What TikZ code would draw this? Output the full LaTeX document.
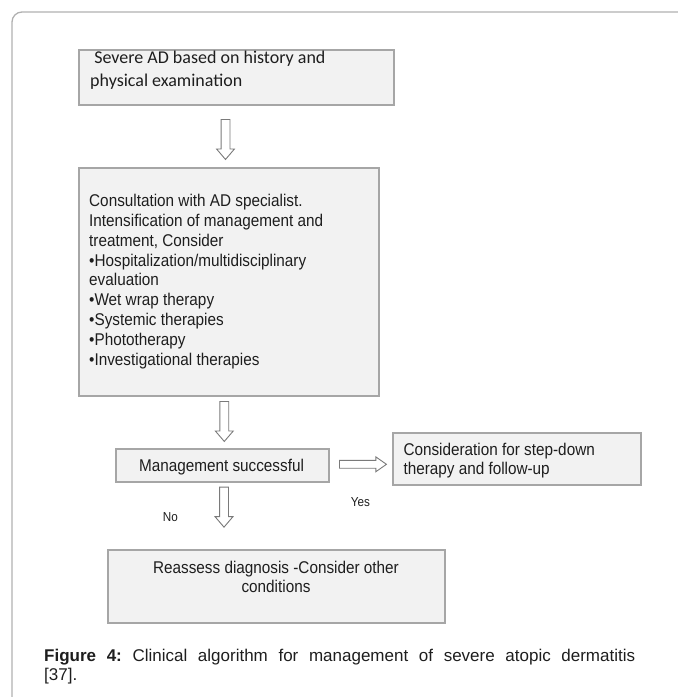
\documentclass[tikz,border=0pt]{standalone}
\usepackage{fontspec}
\setmainfont{Liberation Sans}
\newfontfamily\narrowfont[FakeStretch=0.9]{Liberation Sans}
\newfontfamily\calibfont{Carlito}
\usetikzlibrary{shapes.arrows}
\definecolor{boxfill}{HTML}{F2F2F2}
\definecolor{boxline}{HTML}{A6A6A6}
\definecolor{arrline}{HTML}{7A7A7A}
\definecolor{frameline}{HTML}{B0B0B0}
\definecolor{ink}{HTML}{1E1E1E}
\newcommand\leftlines[2]{\vtop{\baselineskip=#1\relax\halign{##\hfil\cr#2\crcr}}}
\newcommand\centerlines[2]{\vtop{\baselineskip=#1\relax\halign{\hfil##\hfil\cr#2\crcr}}}
\begin{document}
\begin{tikzpicture}[x=1pt,y=-1pt,
  box/.style={draw=boxline, fill=boxfill, line width=1.5pt, inner sep=0pt, anchor=north west},
  boxtext/.style={inner sep=0pt, text=ink, font=\narrowfont\fontsize{17}{19.8}\selectfont},
  downarrow/.style={single arrow, draw=arrline, fill=white, line width=0.9pt,
    inner sep=4pt,
    minimum height=40pt, single arrow head extend=4.5pt,
    single arrow tip angle=81, shape border rotate=270, anchor=tail},
  rightarrow/.style={single arrow, draw=arrline, fill=white, line width=0.9pt,
    inner xsep=0pt, inner ysep=3.5pt,
    minimum height=47pt, single arrow head extend=3.5pt,
    single arrow tip angle=70, anchor=tail},
  lbl/.style={inner sep=0pt, text=ink, font=\narrowfont\fontsize{13}{14}\selectfont, anchor=base west}
]
\useasboundingbox (0,0) rectangle (678,697);
\draw[frameline, line width=1.3pt, rounded corners=10pt] (700,12) -- (12,12) -- (12,720);

% boxes
\node[box, minimum width=315pt, minimum height=55pt] (b1) at (78,49) {};
\node[box, minimum width=300pt, minimum height=228pt] (b2) at (78,167) {};
\node[box, minimum width=213pt, minimum height=33pt] (b3) at (115,448) {};
\node[box, minimum width=248pt, minimum height=52pt] (b4) at (392,432) {};
\node[box, minimum width=337pt, minimum height=73pt] (b5) at (107,549) {};

% texts
\node[inner sep=0pt, text=ink, font=\calibfont\fontsize{18}{23}\selectfont, anchor=base west] (t1) at (90,63.3)
  {\leftlines{23.5pt}{\ Severe AD based on history and\cr physical examination}};
\node[boxtext, anchor=base west] (t2) at (89,206.7)
  {\leftlines{19.8pt}{Consultation with AD specialist.\cr
   Intensification of management and\cr
   treatment, Consider\cr
   •Hospitalization/multidisciplinary\cr
   evaluation\cr
   •Wet wrap therapy\cr
   •Systemic therapies\cr
   •Phototherapy\cr
   •Investigational therapies}};
\node[boxtext, anchor=base] (t3) at (221.5,471) {Management successful};
\node[boxtext, anchor=base west] (t4) at (403.3,455)
  {\leftlines{19.5pt}{Consideration for step-down\cr therapy and follow-up}};
\node[boxtext, anchor=base] (t5) at (276,573.3)
  {\centerlines{19pt}{Reassess diagnosis -Consider other\cr conditions}};

% arrows
\node[downarrow] (a1) at (225.5,119) {};
\node[downarrow] (a2) at (224.3,401) {};
\node[downarrow] (a3) at (224,486.7) {};
\node[rightarrow] (a4) at (339,464.3) {};

\node[lbl] (yes) at (350.7,506) {Yes};
\node[lbl] (no) at (162.7,521.7) {No};

% caption
\node[inner sep=0pt, text=ink, font=\fontsize{17}{19}\selectfont, anchor=base west] (cap) at (44,661)
  {\vtop{\hsize=591pt\parindent=0pt\baselineskip=19pt\frenchspacing\relax
   \textbf{Figure 4:} Clinical algorithm for management of severe atopic dermatitis\linebreak{}[37].}};
\end{tikzpicture}
\end{document}
